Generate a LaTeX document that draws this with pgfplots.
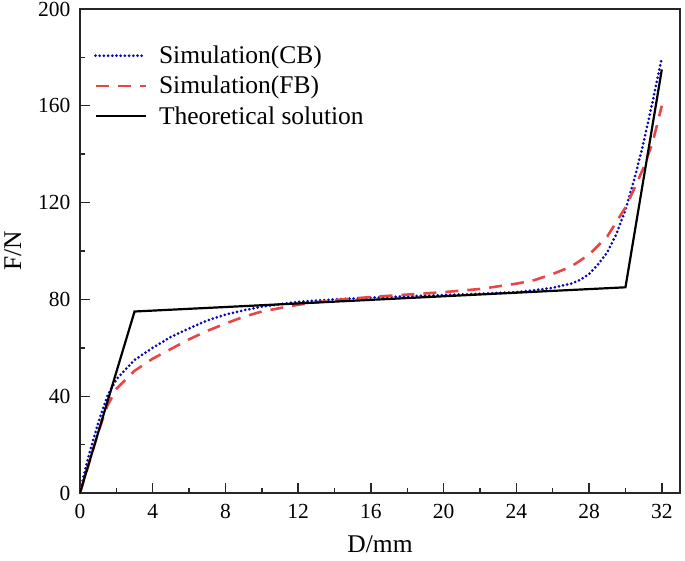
\documentclass[border=0pt]{standalone}
\usepackage{fontspec}
\setmainfont{Liberation Serif}
\usepackage{pgfplots}
\pgfplotsset{compat=1.18}
\definecolor{cbblue}{RGB}{10,10,175}
\definecolor{fbred}{RGB}{232,70,70}
\begin{document}
\begin{tikzpicture}
\begin{axis}[
  scale only axis,
  width=600pt, height=484pt,
  at={(0pt,0pt)}, anchor=south west,
  xmin=0, xmax=33, ymin=0, ymax=200,
  xtick={0,4,...,32}, ytick={0,40,...,200},
  minor x tick num=1, minor y tick num=1,
  tick align=inside,
  xtick pos=bottom, ytick pos=left,
  major tick length=10pt, minor tick length=5pt,
  axis line style={line width=1.6pt, black!85},
  every tick/.style={line width=1.4pt, black!85},
  /pgf/number format/assume math mode=true,
  tick label style={font=\fontsize{21.5}{24}\selectfont},
  label style={font=\fontsize{25.5}{28}\selectfont},
  xlabel={D/mm}, ylabel={F/N},
  xticklabel style={yshift=-8pt},
  yticklabel style={xshift=-6pt},
  xlabel style={yshift=-10pt},
  ylabel style={yshift=10pt},
  legend style={at={(0.018,0.932)}, anchor=north west, draw=none, fill=none,
    font=\fontsize{25.5}{28}\selectfont, row sep=7pt,
    /tikz/every odd column/.append style={column sep=10pt}},
  legend cell align=left,
  legend image code/.code={\draw[#1] (0pt,0pt) -- (50pt,0pt);},
]
\addplot[cbblue, line width=3pt, dash pattern=on 0pt off 4.2pt, line cap=round] coordinates {
(0,0) (0.2,7) (0.5,16) (1,29) (1.5,40) (2,47) (3,55) (4,60) (5,64.5) (6,68) (7,71.3) (8,73.7) (9,75.5) (10,77) (12,79) (14,80) (16,80.7) (18,81.3) (20,81.8) (22,82.3) (24,83) (25,83.8) (26,84.8) (27,86.5) (27.5,88) (28,90.5) (28.5,94.5) (29,99.5) (29.5,107) (30,117) (30.5,130) (31,145) (31.5,162) (32,180)
};
\addlegendentry{Simulation(CB)}
\addplot[fbred, line width=2.6pt, dash pattern=on 13pt off 9pt] coordinates {
(0,0) (0.5,12.5) (1,25) (1.5,36) (2,43) (3,50.5) (4,55.5) (5,59.5) (6,63.5) (7,67) (8,70) (9,72.8) (10,75) (12,77.8) (14,79.7) (16,81) (18,82) (20,83) (22,84.3) (24,86.5) (25,88) (26,90.5) (27,93.5) (28,98.5) (29,106) (30,118) (30.5,126) (31,134.5) (31.5,145) (32,160)
};
\addlegendentry{Simulation(FB)}
\addplot[black, line width=2.2pt] coordinates {
(0,0) (3,75) (30,85) (32,175)
};
\addlegendentry{Theoretical solution}
\end{axis}
\pgfresetboundingbox
\useasboundingbox (-80pt,-67pt) rectangle (605pt,493pt);
\end{tikzpicture}
\end{document}
